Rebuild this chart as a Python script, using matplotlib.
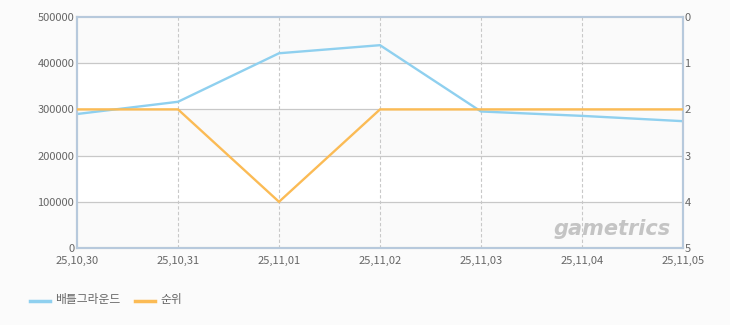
import matplotlib
matplotlib.use("Agg")
import matplotlib.pyplot as plt
from matplotlib.lines import Line2D

plt.rcParams['font.family'] = ['Noto Sans CJK KR', 'DejaVu Sans']

dates = ["25,10,30", "25,10,31", "25,11,01", "25,11,02", "25,11,03", "25,11,04", "25,11,05"]
players = [290000, 316500, 421500, 439000, 295500, 286000, 274500]
rank = [2, 2, 4, 2, 2, 2, 2]
left_ticks = [0, 100000, 200000, 300000, 400000, 500000]
right_ticks = [0, 1, 2, 3, 4, 5]
series_names = ["배틀그라운드", "순위"]

blue = "#8fd0ef"
orange = "#fbbb55"
tick_col = "#666666"

fig = plt.figure(figsize=(7.3, 3.25), dpi=100)
fig.patch.set_facecolor("#fbfbfb")
ax = fig.add_axes([77/730, 1-248/325, (683-77)/730, (248-17)/325])
ax.set_facecolor("white")
x = list(range(len(dates)))

# alternating bands
for lo, hi in [(0, 100000), (200000, 300000), (400000, 500000)]:
    ax.axhspan(lo, hi, color="#fafafa", zorder=0, lw=0)

ax.set_xlim(0, len(dates)-1)
ax.set_ylim(0, 500000)
ax.set_yticks(left_ticks)
ax.set_yticklabels([str(v) for v in left_ticks])
ax.set_xticks(x)
ax.set_xticklabels(dates)
for v in left_ticks[1:-1]:
    ax.axhline(v, color="#c8c8c8", lw=0.9, zorder=1)
for xi in x[1:-1]:
    ax.axvline(xi, color="#c8c8c8", lw=0.8, ls=(0, (3, 2)), zorder=1)

ax.plot(x, players, color=blue, lw=1.7, zorder=3, solid_joinstyle="miter")

ax2 = ax.twinx()
ax2.set_ylim(5, 0)
ax2.set_yticks(right_ticks)
ax2.plot(x, rank, color=orange, lw=1.7, zorder=3, solid_joinstyle="miter")

for a in (ax, ax2):
    a.tick_params(length=0, labelsize=8, colors=tick_col, pad=2)
    for s in a.spines.values():
        s.set_color("#b7c9dc")
        s.set_linewidth(1.5)
ax.spines['left'].set_color("#a5b6ca")
ax.spines['bottom'].set_color("#a5b6ca")
ax.tick_params(axis='x', pad=6)
ax2.tick_params(axis='y', pad=1)

# watermark
ax.text(0.98, 0.04, "gametrics", transform=ax.transAxes, ha="right", va="bottom",
        fontsize=15, color="#c4c4c4", style="italic", fontweight="bold",
        family="DejaVu Sans", zorder=2)

# legend
fig.add_artist(Line2D([30/730, 50/730], [1-301/325]*2, color=blue, lw=2.5))
fig.text(55/730, 1-300/325, series_names[0], fontsize=8.5, color=tick_col, va="center")
fig.add_artist(Line2D([135/730, 155/730], [1-301/325]*2, color=orange, lw=2.5))
fig.text(160/730, 1-300/325, series_names[1], fontsize=8.5, color=tick_col, va="center")

fig.savefig("out.png", dpi=100, facecolor=fig.get_facecolor())
